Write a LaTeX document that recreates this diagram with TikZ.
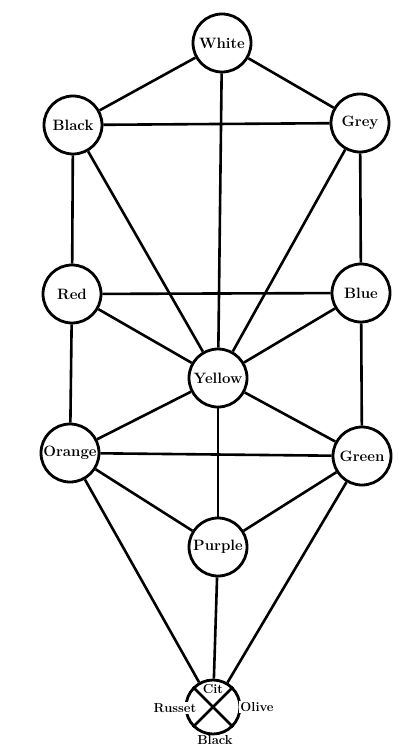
\documentclass[tikz,border=0pt]{standalone}
\usepackage{tikz}
\usetikzlibrary{positioning}
\usepackage{xcolor}

\tikzset{
    sephira/.style={draw, circle, line width=2.8pt, fill=white, minimum size=58pt, inner sep=0pt, font=\bfseries\fontsize{15}{15}\selectfont},
    path/.style={line width=2.6pt},
    smalllabel/.style={font=\bfseries\fontsize{13}{13}\selectfont, inner sep=1pt}
}

\begin{document}
\begin{tikzpicture}[x=1pt, y=-1pt]
        \useasboundingbox (0,0) rectangle (398,751);
        % the ten circles
        \node[sephira] (white)  at (222,43)  {White};
        \node[sephira] (black)  at (73,125)  {Black};
        \node[sephira] (grey)   at (360,123) {Grey};
        \node[sephira] (red)    at (72,294)  {Red};
        \node[sephira] (blue)   at (361,293) {Blue};
        \node[sephira] (yellow) at (218,378) {Yellow};
        \node[sephira] (orange) at (70,453)  {Orange};
        \node[sephira] (green)  at (362,456) {Green};
        \node[sephira] (purple) at (218,547) {Purple};
        \node[sephira, minimum size=54pt] (earth) at (213,707) {};
        % the paths between them
        \foreach \a/\b in {white/black, white/grey, white/yellow, black/grey,
                black/red, grey/blue, black/yellow, grey/yellow,
                red/blue, red/yellow, blue/yellow, red/orange, blue/green,
                yellow/orange, yellow/green, yellow/purple, orange/green,
                orange/purple, green/purple, orange/earth, green/earth, purple/earth}
            \draw[path] (\a) -- (\b);
        % the quartered circle at the foot
        \draw[path] (earth.north west) -- (earth.south east);
        \draw[path] (earth.north east) -- (earth.south west);
        \node[smalllabel] (citrine) at (213,689) {Cit};
        \node[smalllabel, fill=white] (russet) at (175,708) {Russet};
        \node[smalllabel, fill=white] (olive) at (257,707) {Olive};
        \node[smalllabel] (earthblack) at (215,740) {Black};
    \end{tikzpicture}
\end{document}
